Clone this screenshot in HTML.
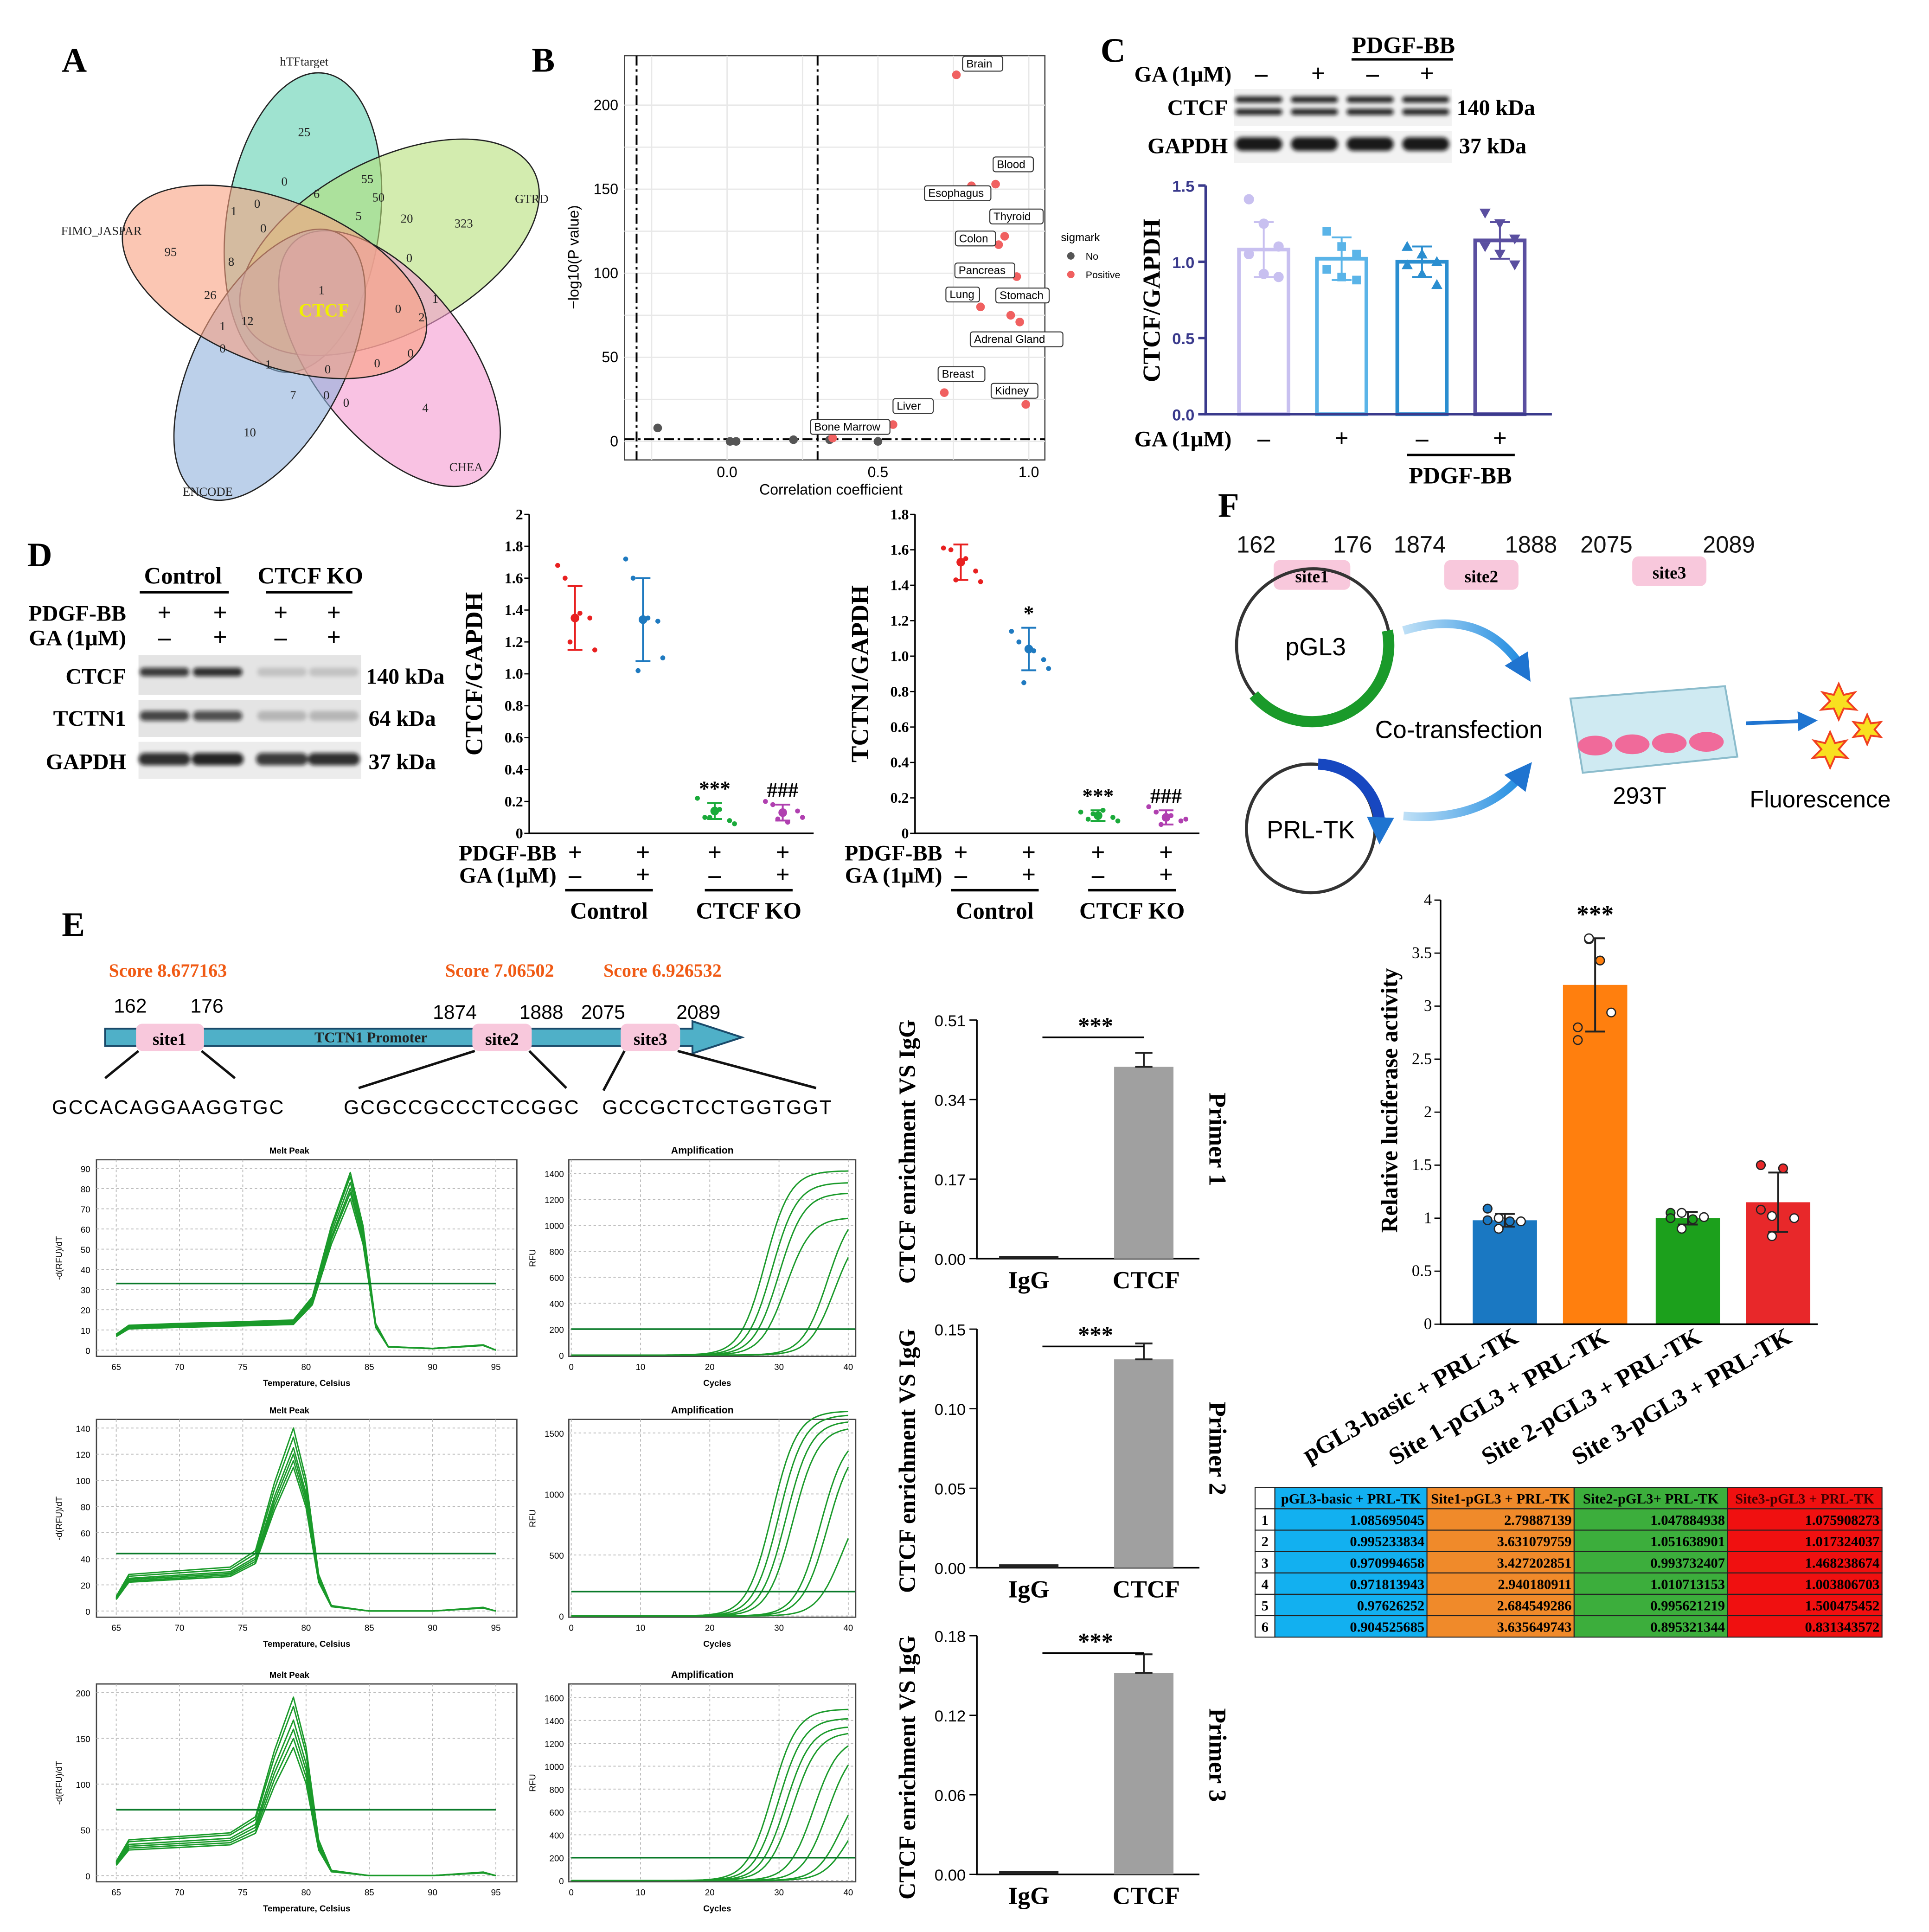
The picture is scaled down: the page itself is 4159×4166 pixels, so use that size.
<!DOCTYPE html>
<html><head><meta charset="utf-8"><style>
html,body{margin:0;padding:0;background:#fff;}
svg{display:block;}
.s{font-family:"Liberation Serif",serif;}
.a{font-family:"Liberation Sans",sans-serif;}
</style></head><body>
<svg id="fig" width="4159" height="4166" viewBox="0 0 1560 1562.6" xmlns="http://www.w3.org/2000/svg">
<rect x="0" y="0" width="1560" height="1563" fill="#fff"/>
<defs>
<filter id="blur"><feGaussianBlur stdDeviation="1.6"/></filter>
<marker id="ah" markerUnits="userSpaceOnUse" markerWidth="16" markerHeight="16" refX="8" refY="8" orient="auto"><path d="M0,0 L16,8 L0,16 z" fill="#1f74d0"/></marker>
<marker id="ah2" markerUnits="userSpaceOnUse" markerWidth="22" markerHeight="22" refX="11" refY="11" orient="auto"><path d="M0,0 L22,11 L0,22 z" fill="#1f74d0"/></marker>
<linearGradient id="arrg" x1="0" x2="1"><stop offset="0" stop-color="#bfe0f6"/><stop offset="1" stop-color="#1f8be0"/></linearGradient>
</defs>

<g class="s" font-weight="bold" font-size="28">
<text x="50" y="58">A</text><text x="430" y="58">B</text><text x="890" y="50">C</text>
<text x="22" y="458">D</text><text x="985" y="418">F</text><text x="50" y="757">E</text>
</g>

<g id="venn">
<ellipse cx="245" cy="180" rx="62" ry="122" transform="rotate(8 245 180)" fill="#5fd0b0" fill-opacity="0.6" stroke="#222"/>
<ellipse cx="315" cy="200" rx="132" ry="70" transform="rotate(-28 315 200)" fill="#b6e07a" fill-opacity="0.6" stroke="#222"/>
<ellipse cx="315" cy="290" rx="62" ry="122" transform="rotate(-38 315 290)" fill="#f59ad0" fill-opacity="0.6" stroke="#222"/>
<ellipse cx="218" cy="295" rx="60" ry="120" transform="rotate(28 218 295)" fill="#8fb0dc" fill-opacity="0.6" stroke="#222"/>
<ellipse cx="222" cy="228" rx="130" ry="66" transform="rotate(22 222 228)" fill="#f8a080" fill-opacity="0.6" stroke="#222"/>
<g class="s" font-size="10" text-anchor="middle" fill="#222">
<text x="246" y="53">hTFtarget</text><text x="430" y="164">GTRD</text><text x="82" y="190">FIMO_JASPAR</text><text x="168" y="401">ENCODE</text><text x="377" y="381">CHEA</text>
<text x="246" y="110">25</text><text x="230" y="150">0</text><text x="256" y="160">6</text><text x="297" y="148">55</text><text x="306" y="163">50</text>
<text x="375" y="184">323</text><text x="208" y="168">0</text><text x="189" y="174">1</text><text x="213" y="188">0</text><text x="290" y="178">5</text>
<text x="329" y="180">20</text><text x="331" y="212">0</text><text x="138" y="207">95</text><text x="187" y="215">8</text><text x="170" y="242">26</text>
<text x="260" y="238">1</text><text x="352" y="245">1</text><text x="322" y="253">0</text><text x="341" y="260">2</text><text x="180" y="267">1</text>
<text x="200" y="263">12</text><text x="180" y="285">0</text><text x="217" y="298">1</text><text x="332" y="289">0</text><text x="305" y="297">0</text>
<text x="265" y="302">0</text><text x="237" y="323">7</text><text x="264" y="323">0</text><text x="280" y="329">0</text><text x="344" y="333">4</text><text x="202" y="353">10</text>
</g>
<text x="262" y="256" class="s" font-size="15" font-weight="bold" fill="#f0f000" text-anchor="middle">CTCF</text>
</g>

<g id="panelB"></g>

<g class="s" font-weight="bold">
<text x="1135" y="43" font-size="19" text-anchor="middle">PDGF-BB</text>
<line x1="1093" y1="48" x2="1175" y2="48" stroke="#000" stroke-width="2"/>
<text x="996" y="66" font-size="18" text-anchor="end">GA (1μM)</text>
<text x="1020" y="66" font-size="20" text-anchor="middle">–</text><text x="1066" y="66" font-size="20" text-anchor="middle">+</text>
<text x="1110" y="66" font-size="20" text-anchor="middle">–</text><text x="1154" y="66" font-size="20" text-anchor="middle">+</text>
<text x="993" y="93" font-size="18" text-anchor="end">CTCF</text><text x="993" y="124" font-size="18" text-anchor="end">GAPDH</text>
<text x="1178" y="93" font-size="18">140 kDa</text><text x="1180" y="124" font-size="18">37 kDa</text>
<rect x="998" y="72" width="176" height="30" fill="#f2f2f2"/><rect x="998" y="106" width="176" height="26" fill="#f2f2f2"/>
</g>
<g id="blotC" filter="url(#blur)"></g>
<g id="chartC"></g>

<g class="s" font-weight="bold">
<text x="148" y="472" font-size="19" text-anchor="middle">Control</text><text x="251" y="472" font-size="19" text-anchor="middle">CTCF KO</text>
<line x1="113" y1="479" x2="185" y2="479" stroke="#000" stroke-width="2"/><line x1="215" y1="479" x2="285" y2="479" stroke="#000" stroke-width="2"/>
<text x="102" y="502" font-size="18" text-anchor="end">PDGF-BB</text><text x="102" y="522" font-size="18" text-anchor="end">GA (1μM)</text>
<text x="133" y="502" font-size="20" text-anchor="middle">+</text><text x="178" y="502" font-size="20" text-anchor="middle">+</text><text x="227" y="502" font-size="20" text-anchor="middle">+</text><text x="270" y="502" font-size="20" text-anchor="middle">+</text>
<text x="133" y="522" font-size="20" text-anchor="middle">–</text><text x="178" y="522" font-size="20" text-anchor="middle">+</text><text x="227" y="522" font-size="20" text-anchor="middle">–</text><text x="270" y="522" font-size="20" text-anchor="middle">+</text>
<text x="102" y="553" font-size="18" text-anchor="end">CTCF</text><text x="102" y="587" font-size="18" text-anchor="end">TCTN1</text><text x="102" y="622" font-size="18" text-anchor="end">GAPDH</text>
<text x="296" y="553" font-size="18">140 kDa</text><text x="298" y="587" font-size="18">64 kDa</text><text x="298" y="622" font-size="18">37 kDa</text>
<rect x="112" y="530" width="180" height="32" fill="#e4e4e4"/><rect x="112" y="566" width="180" height="30" fill="#e4e4e4"/><rect x="112" y="600" width="180" height="30" fill="#ececec"/>
</g>
<g id="blotD" filter="url(#blur)"></g>
<g id="chartD1"></g>
<g id="chartD2"></g>

<g>
<g class="a" font-size="19" fill="#111">
<text x="1000" y="447">162</text><text x="1078" y="447">176</text><text x="1127" y="447">1874</text><text x="1217" y="447">1888</text><text x="1278" y="447">2075</text><text x="1377" y="447">2089</text>
</g>
<rect x="1030" y="453" width="62" height="24" rx="5" fill="#f8c8dc"/><text x="1061" y="471" class="s" font-weight="bold" font-size="14" text-anchor="middle">site1</text>
<rect x="1168" y="453" width="60" height="24" rx="5" fill="#f8c8dc"/><text x="1198" y="471" class="s" font-weight="bold" font-size="14" text-anchor="middle">site2</text>
<rect x="1320" y="450" width="60" height="24" rx="5" fill="#f8c8dc"/><text x="1350" y="468" class="s" font-weight="bold" font-size="14" text-anchor="middle">site3</text>
<circle cx="1062" cy="522" r="62" fill="none" stroke="#333" stroke-width="2.5"/>
<path d="M1122,510 A62,62 0 0 1 1014,562" fill="none" stroke="#1a9a2a" stroke-width="9"/>
<text x="1064" y="530" class="a" font-size="20" text-anchor="middle">pGL3</text>
<circle cx="1060" cy="670" r="52" fill="none" stroke="#333" stroke-width="2.5"/>
<path d="M1066,618 A52,52 0 0 1 1116,672" fill="none" stroke="#1747c0" stroke-width="9" marker-end="url(#ah2)"/>
<text x="1060" y="678" class="a" font-size="20" text-anchor="middle">PRL-TK</text>
<path d="M1135,510 Q1200,490 1232,542" fill="none" stroke="url(#arrg)" stroke-width="7" marker-end="url(#ah2)"/>
<path d="M1135,660 Q1200,665 1232,625" fill="none" stroke="url(#arrg)" stroke-width="7" marker-end="url(#ah2)"/>
<text x="1112" y="597" class="a" font-size="20">Co-transfection</text>
<path d="M1270,565 L1395,555 L1405,612 L1280,625 z" fill="#cfeaf2" stroke="#8bbccc" stroke-width="1.5"/>
<g fill="#f06a9a"><ellipse cx="1290" cy="603" rx="14" ry="8"/><ellipse cx="1320" cy="602" rx="14" ry="8"/><ellipse cx="1350" cy="601" rx="14" ry="8"/><ellipse cx="1380" cy="600" rx="14" ry="8"/></g>
<text x="1326" y="650" class="a" font-size="19" text-anchor="middle">293T</text>
<line x1="1412" y1="585" x2="1462" y2="583" stroke="#1f74d0" stroke-width="3" marker-end="url(#ah)"/>
<g fill="#f8e020" stroke="#f04020" stroke-width="1.5">
<polygon points="1487,553 1491,562 1500,560 1494,567 1501,574 1491,573 1487,582 1483,573 1473,574 1480,567 1474,560 1483,562"/>
<polygon points="1510,578 1513,585 1521,584 1516,590 1521,596 1513,595 1510,602 1507,595 1499,596 1504,590 1499,584 1507,585"/>
<polygon points="1480,592 1484,601 1493,599 1487,606 1494,613 1484,612 1480,621 1476,612 1466,613 1473,606 1467,599 1476,601"/>
</g>
<text x="1472" y="653" class="a" font-size="19" text-anchor="middle">Fluorescence</text>
</g>
<g id="chartF"></g>
<g id="tableF"></g>

<g>
<g class="s" font-weight="bold" font-size="15" fill="#f05a14"><text x="88" y="790">Score 8.677163</text><text x="360" y="790">Score 7.06502</text><text x="488" y="790">Score 6.926532</text></g>
<g class="a" font-size="16"><text x="92" y="819">162</text><text x="154" y="819">176</text><text x="350" y="824">1874</text><text x="420" y="824">1888</text><text x="470" y="824">2075</text><text x="547" y="824">2089</text></g>
<path d="M85,832 L560,832 L560,826 L600,839 L560,852 L560,846 L85,846 z" fill="#4fb0c8" stroke="#1a4a6a" stroke-width="1.5"/>
<text x="300" y="843" class="s" font-weight="bold" font-size="12" text-anchor="middle" fill="#222">TCTN1 Promoter</text>
<rect x="110" y="828" width="55" height="22" rx="5" fill="#f8c8dc"/><text x="137" y="845" class="s" font-weight="bold" font-size="14" text-anchor="middle">site1</text>
<rect x="382" y="828" width="48" height="22" rx="5" fill="#f8c8dc"/><text x="406" y="845" class="s" font-weight="bold" font-size="14" text-anchor="middle">site2</text>
<rect x="502" y="828" width="48" height="22" rx="5" fill="#f8c8dc"/><text x="526" y="845" class="s" font-weight="bold" font-size="14" text-anchor="middle">site3</text>
<g stroke="#111" stroke-width="2"><line x1="112" y1="850" x2="85" y2="872"/><line x1="163" y1="850" x2="190" y2="872"/><line x1="384" y1="850" x2="290" y2="880"/><line x1="428" y1="850" x2="458" y2="880"/><line x1="505" y1="850" x2="488" y2="882"/><line x1="548" y1="850" x2="660" y2="880"/></g>
<g class="a" font-size="16" letter-spacing="1"><text x="42" y="901">GCCACAGGAAGGTGC</text><text x="278" y="901">GCGCCGCCCTCCGGC</text><text x="487" y="901">GCCGCTCCTGGTGGT</text></g>
</g>
<g id="qpcr"></g>
<g id="chip"></g>
</svg>

<script>
const tissueNames = ["Brain","Blood","Esophagus","Thyroid","Colon","Pancreas","Lung","Stomach","Adrenal Gland","Breast","Liver","Bone Marrow","Kidney"];
const tissueR = [0.76,0.89,0.81,0.92,0.90,0.96,0.84,0.94,0.97,0.72,0.55,0.35,0.99];
const tissueP = [218,153,152,122,117,98,80,75,71,29,10,2,22];
const grayR = [-0.23,0.01,0.03,0.22,0.34,0.50];
const grayP = [8,0,0,1,1,0];
const cMeans = [1.08,1.02,1.00,1.14];
const cSD = [0.18,0.14,0.10,0.12];
const cPts = [[1.41,1.25,1.10,1.05,0.92,0.90],[1.20,1.10,1.05,0.95,0.90,0.88],[1.10,1.05,1.00,0.98,0.92,0.85],[1.32,1.25,1.15,1.10,1.05,0.98]];
const d1Pts = [[1.68,1.60,1.38,1.35,1.15,1.20],[1.72,1.60,1.35,1.33,1.10,1.02],[0.22,0.10,0.15,0.08,0.06,0.10],[0.20,0.18,0.07,0.14,0.10,0.09]];
const d1Mean = [1.35,1.34,0.14,0.13];
const d1SD = [0.20,0.26,0.05,0.05];
const d2Pts = [[1.61,1.60,1.55,1.48,1.42,1.43],[1.14,1.08,1.03,0.98,0.93,0.85],[0.12,0.08,0.13,0.09,0.07,0.11],[0.15,0.12,0.10,0.07,0.08,0.05]];
const d2Mean = [1.53,1.04,0.10,0.09];
const d2SD = [0.10,0.12,0.03,0.04];
const fMeans = [0.98,3.20,1.00,1.15];
const fSD = [0.06,0.44,0.06,0.28];
const fPts = [[1.09,1.00,0.97,0.97,0.98,0.90],[2.80,3.63,3.43,2.94,2.68,3.64],[1.05,1.05,0.99,1.01,1.00,0.90],[1.08,1.02,1.47,1.00,1.50,0.83]];
const fLabels = ["pGL3-basic + PRL-TK","Site 1-pGL3 + PRL-TK","Site 2-pGL3 + PRL-TK","Site 3-pGL3 + PRL-TK"];
const tableHead = ["pGL3-basic + PRL-TK","Site1-pGL3 + PRL-TK","Site2-pGL3+ PRL-TK","Site3-pGL3 + PRL-TK"];
const tableRows = [["1.085695045","2.79887139","1.047884938","1.075908273"],["0.995233834","3.631079759","1.051638901","1.017324037"],["0.970994658","3.427202851","0.993732407","1.468238674"],["0.971813943","2.940180911","1.010713153","1.003806703"],["0.97626252","2.684549286","0.995621219","1.500475452"],["0.904525685","3.635649743","0.895321344","0.831343572"]];
const chipIgG = [0.002,0.001,0.001];
const chipCTCF = [0.41,0.131,0.152];
const chipErr = [0.03,0.010,0.014];
const chipTicks = [["0.00","0.17","0.34","0.51"],["0.00","0.05","0.10","0.15"],["0.00","0.06","0.12","0.18"]];
const meltShapeA = [[65,.09],[66,.14],[70,.15],[75,.16],[79,.17],[80.5,.3],[82,.7],[83.5,1],[84.5,.7],[85.5,.15],[86.5,.02],[90,.01],[94,.03],[95,0]];
const meltShapeB = [[65,.08],[66,.2],[70,.22],[74,.24],[76,.33],[77.5,.7],[79,1],[80,.72],[81,.2],[82,.03],[85,0],[90,0],[94,.02],[95,0]];
const meltPeaks = [[88,86,83,80,78,75],[140,133,125,120,115,110],[195,185,170,160,150,140]];
const meltThr = [33,44,72];
const ampCt = [[26,27,28,29,35,36],[27,28,29,30,34,35,37],[27,28,29,30,33,35,37,38]];
const ampPlat = [[1420,1330,1250,1060,1150,1000],[1680,1650,1600,1550,1500,1450,1000],[1500,1420,1350,1300,1250,1200,900,700]];
const ampThr = [200,200,200];

const NS="http://www.w3.org/2000/svg";
function mk(tag, attrs, parent){const e=document.createElementNS(NS,tag);for(const k in attrs)e.setAttribute(k,attrs[k]);parent.appendChild(e);return e;}
function txt(s, attrs, parent){const e=mk('text',attrs,parent);e.textContent=s;return e;}
const SERIF='"Liberation Serif",serif', SANS='"Liberation Sans",sans-serif';

(function(){
const g=document.getElementById('panelB');
const xs=v=>588+v*244, ys=v=>357-v*1.36;
mk('rect',{x:505,y:45,width:340,height:327,fill:'#fff',stroke:'#444'},g);
[-0.25,0,0.25,0.5,0.75,1].forEach(v=>{const l=mk('line',{x1:xs(v),x2:xs(v),y1:45,y2:372,stroke:'#e8e8e8'},g);

});
[0,25,50,75,100,125,150,175,200].forEach(v=>{const l=mk('line',{x1:505,x2:845,y1:ys(v),y2:ys(v),stroke:'#e8e8e8'},g);

});
[[-0.3],[0.3]].forEach(v=>{const l=mk('line',{x1:xs(v[0]),x2:xs(v[0]),y1:45,y2:372,stroke:'#000','stroke-dasharray':'8,3,2,3','stroke-width':1.5},g);

});
const hl=mk('line',{x1:505,x2:845,y1:ys(1.3),y2:ys(1.3),stroke:'#000','stroke-dasharray':'8,3,2,3','stroke-width':1.5},g);


[0,50,100,150,200].forEach(v=>{const t=txt(v,{x:500,y:ys(v)+4,'font-size':12,'text-anchor':'end','font-family':SANS},g);

});
[0,0.5,1].forEach(v=>{const t=txt(v.toFixed(1),{x:xs(v),y:386,'font-size':12,'text-anchor':'middle','font-family':SANS},g);

});
const xt=txt('Correlation coefficient',{x:672,y:400,'font-size':12,'text-anchor':'middle','font-family':SANS},g);


const yt=txt('−log10(P value)',{x:468,y:208,'font-size':12,'text-anchor':'middle','font-family':SANS,transform:'rotate(-90 468 208)'},g);


grayR.forEach((r,i)=>{const c=mk('circle',{cx:xs(r),cy:ys(grayP[i]),r:3.5,fill:'#555'},g);

});
const off={Brain:[5,-6],Blood:[-2,-13],Esophagus:[-38,9],Thyroid:[-12,-13],Colon:[-35,-2],Pancreas:[-50,-2],Lung:[-28,-7],Stomach:[-12,-13],"Adrenal Gland":[-40,17],Breast:[-5,-12],Liver:[0,-12],"Bone Marrow":[-18,-6],Kidney:[-28,-8]};
tissueR.forEach((r,i)=>{const x=xs(r),y=ys(tissueP[i]);const c=mk('circle',{cx:x,cy:y,r:3.5,fill:'#f06060'},g);


const o=off[tissueNames[i]];const w=tissueNames[i].length*5.3+6;
const bx=x+o[0],by=y+o[1];
const b=mk('rect',{x:bx,y:by-9,width:w,height:12,fill:'#fff',stroke:'#333','stroke-width':0.8,rx:2},g);


const t=txt(tissueNames[i],{x:bx+3,y:by,'font-size':9,'font-family':SANS},g);

});
const lg=txt('sigmark',{x:858,y:195,'font-size':9,'font-family':SANS},g);


[['No','#555',210],['Positive','#f06060',225]].forEach(a=>{const c=mk('circle',{cx:866,cy:a[2]-3,r:3,fill:a[1]},g);


const t=txt(a[0],{x:878,y:a[2],'font-size':8,'font-family':SANS},g);

});
})();

function band(g,x,y,w,h,op){const r=mk('rect',{x:x,y:y,width:w,height:h,rx:h/2,fill:'#111','fill-opacity':op},g);

}
(function(){const g=document.getElementById('blotC');
[1018,1063,1108,1153].forEach((x,i)=>{band(g,x-19,78,38,5,.9);band(g,x-19,88,38,5,.9);band(g,x-19,111,38,11,.95);});
const d=document.getElementById('blotD');
[[133,.8,.75,.85],[176,.85,.7,.9],[228,.15,.2,.8],[270,.15,.2,.85]].forEach(a=>{band(d,a[0]-20,540,40,7,a[1]);band(d,a[0]-20,575,40,8,a[2]);band(d,a[0]-21,609,42,10,a[3]);});})();

function marker(g,shape,x,y,col,fill){let e;
if(shape==='c')e=mk('circle',{cx:x,cy:y,r:3.5,fill:fill?col:'#fff',stroke:col,'stroke-width':1.3},g);
else if(shape==='s')e=mk('rect',{x:x-3.5,y:y-3.5,width:7,height:7,fill:col},g);
else if(shape==='t')e=mk('polygon',{points:`${x},${y-4.5} ${x+4.5},${y+3.5} ${x-4.5},${y+3.5}`,fill:col},g);
else e=mk('polygon',{points:`${x},${y+4.5} ${x+4.5},${y-3.5} ${x-4.5},${y-3.5}`,fill:col},g);

}
function errbar(g,x,y1,y2,col,w){const l=mk('path',{d:`M${x},${y1}V${y2}M${x-w},${y1}h${2*w}M${x-w},${y2}h${2*w}`,stroke:col,'stroke-width':1.5,fill:'none'},g);

}

(function(){const g=document.getElementById('chartC');const ys=v=>335-v*123.3;const axc='#3a3a8c';
const xc=[1022,1085,1150,1213],cols=['#c8c0f0','#5ab4e8','#2a8ed0','#5a4fa0'],sh=['c','s','t','v'];
cMeans.forEach((m,i)=>{const b=mk('rect',{x:xc[i]-20,y:ys(m),width:40,height:ys(0)-ys(m),fill:'#fff',stroke:cols[i],'stroke-width':3},g);


errbar(g,xc[i],ys(m-cSD[i]),ys(m+cSD[i]),cols[i],8);
cPts[i].forEach((v,j)=>marker(g,sh[i],xc[i]-12+(j%3)*12,ys(v),cols[i],true));});
const ax=mk('path',{d:'M975,150V335H1255',stroke:axc,'stroke-width':2,fill:'none'},g);


[0,0.5,1,1.5].forEach(v=>{mk('line',{x1:969,x2:975,y1:ys(v),y2:ys(v),stroke:axc,'stroke-width':2},g);
const t=txt(v.toFixed(1),{x:966,y:ys(v)+5,'font-size':13,'text-anchor':'end','font-family':SANS,'font-weight':'bold',fill:axc},g);

});
const yt=txt('CTCF/GAPDH',{x:938,y:243,'font-size':20,'font-weight':'bold','font-family':SERIF,'text-anchor':'middle',transform:'rotate(-90 938 243)'},g);


const gl=txt('GA (1μM)',{x:996,y:361,'font-size':18,'font-weight':'bold','font-family':SERIF,'text-anchor':'end'},g);


['–','+','–','+'].forEach((s,i)=>{const t=txt(s,{x:xc[i],y:361,'font-size':20,'font-weight':'bold','font-family':SERIF,'text-anchor':'middle'},g);

});
mk('line',{x1:1138,x2:1225,y1:368,y2:368,stroke:'#000','stroke-width':2},g);
const p=txt('PDGF-BB',{x:1181,y:391,'font-size':19,'font-weight':'bold','font-family':SERIF,'text-anchor':'middle'},g);

})();

function dChart(id,pts,means,sds,axX,xc,maxV,step,dec,title,sigs){const g=document.getElementById(id);
const y0=674,ytop=416;const ys=v=>y0-v*(y0-ytop)/maxV;const cols=['#e82020','#1f7ac0','#1aaa3a','#b040b0'];
const ax=mk('path',{d:`M${axX},${ytop}V${y0}H${axX+230}`,stroke:'#000','stroke-width':1.3,fill:'none'},g);


for(let v=0;v<=maxV+1e-9;v+=step){mk('line',{x1:axX-4,x2:axX,y1:ys(v),y2:ys(v),stroke:'#000'},g);
const t=txt(v===0?'0':(v>=1.999&&maxV===2?'2':v.toFixed(dec)),{x:axX-5,y:ys(v)+4,'font-size':12,'text-anchor':'end','font-family':SERIF,'font-weight':'bold'},g);

}
pts.forEach((arr,i)=>{arr.forEach((v,j)=>{const dx=[-14,-8,4,12,16,-4][j];const c=mk('circle',{cx:xc[i]+dx,cy:ys(v),r:2,fill:cols[i]},g);

});
errbar(g,xc[i],ys(means[i]-sds[i]),ys(means[i]+sds[i]),cols[i],6);
const m=mk('circle',{cx:xc[i],cy:ys(means[i]),r:3.5,fill:cols[i]},g);


if(sigs[i]){const s=txt(sigs[i],{x:xc[i],y:ys(means[i]+sds[i])-6,'font-size':17,'font-family':SERIF,'font-weight':'bold','text-anchor':'middle'},g);

}});
const yt=txt(title,{x:axX-38,y:545,'font-size':20,'font-weight':'bold','font-family':SERIF,'text-anchor':'middle',transform:`rotate(-90 ${axX-38} 545)`},g);


[['PDGF-BB',696],['GA (1μM)',714]].forEach(a=>{const t=txt(a[0],{x:axX+22,y:a[1],'font-size':18,'font-weight':'bold','font-family':SERIF,'text-anchor':'end'},g);

});
xc.forEach((x,i)=>{txt('+',{x:x,y:696,'font-size':20,'font-weight':'bold','font-family':SERIF,'text-anchor':'middle'},g);
const t=txt(i%2?'+':'–',{x:x,y:714,'font-size':20,'font-weight':'bold','font-family':SERIF,'text-anchor':'middle'},g);

});
mk('line',{x1:xc[0]-8,x2:xc[1]+8,y1:720,y2:720,stroke:'#000','stroke-width':2},g);
mk('line',{x1:xc[2]-8,x2:xc[3]+8,y1:720,y2:720,stroke:'#000','stroke-width':2},g);
txt('Control',{x:(xc[0]+xc[1])/2,y:743,'font-size':19,'font-weight':'bold','font-family':SERIF,'text-anchor':'middle'},g);
txt('CTCF KO',{x:(xc[2]+xc[3])/2,y:743,'font-size':19,'font-weight':'bold','font-family':SERIF,'text-anchor':'middle'},g);}
dChart('chartD1',d1Pts,d1Mean,d1SD,428,[465,520,578,633],2,0.2,1,'CTCF/GAPDH',[null,null,'***','###']);
dChart('chartD2',d2Pts,d2Mean,d2SD,740,[777,832,888,943],1.8,0.2,1,'TCTN1/GAPDH',[null,'*','***','###']);

(function(){const g=document.getElementById('chartF');const ys=v=>1071-v*85.75;
const xc=[1217,1290,1365,1438],cols=['#1a78c2','#ff7f0e','#1ca01c','#e8282a'];
fMeans.forEach((m,i)=>{const b=mk('rect',{x:xc[i]-26,y:ys(m),width:52,height:ys(0)-ys(m),fill:cols[i]},g);


errbar(g,xc[i],ys(m-fSD[i]),ys(m+fSD[i]),'#222',8);
fPts[i].forEach((v,j)=>{const c=mk('circle',{cx:xc[i]-14+(j%4)*9,cy:ys(v),r:3.5,fill:j%2?'#fff':cols[i],stroke:'#222','stroke-width':1},g);

});
const t=txt(fLabels[i],{x:xc[i]+12,y:1085,'font-size':20,'font-weight':'bold','font-family':SERIF,'text-anchor':'end',transform:`rotate(-30 ${xc[i]+12} 1085)`},g);

});
const s=txt('***',{x:1290,y:746,'font-size':20,'font-weight':'bold','font-family':SERIF,'text-anchor':'middle'},g);


const ax=mk('path',{d:'M1165,728V1071H1470',stroke:'#000','stroke-width':1.3,fill:'none'},g);


[0,0.5,1,1.5,2,2.5,3,3.5,4].forEach(v=>{mk('line',{x1:1160,x2:1165,y1:ys(v),y2:ys(v),stroke:'#000'},g);
const t=txt(String(v),{x:1158,y:ys(v)+4,'font-size':13,'text-anchor':'end','font-family':SERIF},g);

});
const yt=txt('Relative luciferase activity',{x:1130,y:890,'font-size':19,'font-weight':'bold','font-family':SERIF,'text-anchor':'middle',transform:'rotate(-90 1130 890)'},g);

})();

(function(){const g=document.getElementById('tableF');const cx=[1015,1031,1154,1273,1397,1522];const cols=['#12b0f0','#f08a2a','#3cae3c','#f01010'];
const y0=1203,rh=17.3;
for(let r=0;r<7;r++){for(let c=0;c<5;c++){const x=cx[c],w=cx[c+1]-cx[c];
const cell=mk('rect',{x:x,y:y0+r*rh,width:w,height:rh,fill:c===0?'#fff':cols[c-1],stroke:'#222','stroke-width':0.8},g);


let s,anchor,tx;
if(r===0){s=c===0?'':tableHead[c-1];anchor='middle';tx=x+w/2;}
else if(c===0){s=String(r);anchor='middle';tx=x+w/2;}
else{s=tableRows[r-1][c-1];anchor='end';tx=x+w-2;}
const t=txt(s,{x:tx,y:y0+r*rh+13,'font-size':11.5,'font-weight':'bold','font-family':SERIF,'text-anchor':anchor,fill:(r===0&&c===4)?'#400':'#000'},g);

}}})();

(function(){const g=document.getElementById('chip');const base=[1018,1268,1516],top=[825,1075,1323];
const maxes=[0.51,0.15,0.18];
[0,1,2].forEach(k=>{const ys=v=>base[k]-v*(base[k]-top[k])/maxes[k];
const ax=mk('path',{d:`M790,${top[k]}V${base[k]}H970`,stroke:'#000','stroke-width':1.3,fill:'none'},g);


chipTicks[k].forEach((s,i)=>{const v=parseFloat(s);mk('line',{x1:784,x2:790,y1:ys(v),y2:ys(v),stroke:'#000'},g);
const t=txt(s,{x:781,y:ys(v)+5,'font-size':13,'text-anchor':'end','font-family':SANS},g);

});
const b1=mk('rect',{x:808,y:ys(chipIgG[k])-1.5,width:48,height:Math.max(1.5,ys(0)-ys(chipIgG[k])+1.5),fill:'#222'},g);


const b2=mk('rect',{x:901,y:ys(chipCTCF[k]),width:48,height:ys(0)-ys(chipCTCF[k]),fill:'#a0a0a0'},g);


errbar(g,925,ys(chipCTCF[k]),ys(chipCTCF[k]+chipErr[k]),'#222',7);
mk('line',{x1:843,x2:925,y1:top[k]+14,y2:top[k]+14,stroke:'#000','stroke-width':1.3},g);
txt('***',{x:886,y:top[k]+11,'font-size':19,'font-family':SERIF,'font-weight':'bold','text-anchor':'middle'},g);
txt('IgG',{x:832,y:base[k]+24,'font-size':20,'font-family':SERIF,'font-weight':'bold','text-anchor':'middle'},g);
txt('CTCF',{x:927,y:base[k]+24,'font-size':20,'font-family':SERIF,'font-weight':'bold','text-anchor':'middle'},g);
const yc=(top[k]+base[k])/2+10;
const yt=txt('CTCF enrichment VS IgG',{x:740,y:yc,'font-size':19,'font-weight':'bold','font-family':SERIF,'text-anchor':'middle',transform:`rotate(-90 740 ${yc})`},g);


const pl=txt('Primer '+(k+1),{x:978,y:yc-10,'font-size':20,'font-weight':'bold','font-family':SERIF,'text-anchor':'middle',transform:`rotate(90 978 ${yc-10})`},g);

});})();

(function(){const g=document.getElementById('qpcr');
const frames=[[938,1097],[1148,1308],[1362,1522]];
const meltMax=[90,140,200],meltStep=[10,20,50],ampMax=[1400,1500,1600],ampStep=[200,500,200];
frames.forEach((f,k)=>{
const mx=v=>94+(v-65)*307/30,my=v=>f[1]-5-v*(f[1]-f[0]-12)/meltMax[k];
const fr=mk('rect',{x:78,y:f[0],width:340,height:f[1]-f[0],fill:'#fff',stroke:'#444'},g);


for(let v=65;v<=95;v+=5){mk('line',{x1:mx(v),x2:mx(v),y1:f[0],y2:f[1],stroke:'#bbb','stroke-dasharray':'2,2','stroke-width':0.7},g);
txt(v,{x:mx(v),y:f[1]+11,'font-size':7,'text-anchor':'middle','font-family':SANS},g);}
for(let v=0;v<=meltMax[k];v+=meltStep[k]){mk('line',{x1:78,x2:418,y1:my(v),y2:my(v),stroke:'#bbb','stroke-dasharray':'2,2','stroke-width':0.7},g);
txt(v,{x:73,y:my(v)+3,'font-size':7,'text-anchor':'end','font-family':SANS},g);}
txt('Melt Peak',{x:234,y:f[0]-5,'font-size':7,'font-weight':'bold','text-anchor':'middle','font-family':SANS},g);
txt('Temperature, Celsius',{x:248,y:f[1]+24,'font-size':7,'font-weight':'bold','text-anchor':'middle','font-family':SANS},g);
txt('-d(RFU)/dT',{x:50,y:(f[0]+f[1])/2,'font-size':7,'text-anchor':'middle','font-family':SANS,transform:`rotate(-90 50 ${(f[0]+f[1])/2})`},g);
const shape=k===0?meltShapeA:meltShapeB;
meltPeaks[k].forEach(pk=>{const d=shape.map((p,i)=>(i?'L':'M')+mx(p[0]).toFixed(1)+','+my(p[1]*pk).toFixed(1)).join('');
const c=mk('path',{d:d,fill:'none',stroke:'#1a9a2a','stroke-width':1.1,'stroke-linejoin':'round'},g);

});
mk('line',{x1:94,x2:401,y1:my(meltThr[k]),y2:my(meltThr[k]),stroke:'#0a7a2a','stroke-width':1.3},g);
const ax=v=>462+v*5.6,ay=v=>f[1]-1-v*(f[1]-f[0]-12)/ampMax[k];
const fa=mk('rect',{x:460,y:f[0],width:232,height:f[1]-f[0],fill:'#fff',stroke:'#444'},g);


for(let v=0;v<=40;v+=10){mk('line',{x1:ax(v),x2:ax(v),y1:f[0],y2:f[1],stroke:'#bbb','stroke-dasharray':'2,2','stroke-width':0.7},g);
txt(v,{x:ax(v),y:f[1]+11,'font-size':7,'text-anchor':'middle','font-family':SANS},g);}
for(let v=0;v<=ampMax[k];v+=ampStep[k]){mk('line',{x1:460,x2:692,y1:ay(v),y2:ay(v),stroke:'#bbb','stroke-dasharray':'2,2','stroke-width':0.7},g);
txt(v,{x:456,y:ay(v)+3,'font-size':7,'text-anchor':'end','font-family':SANS},g);}
txt('Amplification',{x:568,y:f[0]-5,'font-size':8,'font-weight':'bold','text-anchor':'middle','font-family':SANS},g);
txt('Cycles',{x:580,y:f[1]+24,'font-size':7,'font-weight':'bold','text-anchor':'middle','font-family':SANS},g);
txt('RFU',{x:433,y:(f[0]+f[1])/2,'font-size':7,'text-anchor':'middle','font-family':SANS,transform:`rotate(-90 433 ${(f[0]+f[1])/2})`},g);
ampCt[k].forEach((ct,i)=>{let d='';for(let c=0;c<=40;c+=0.5){const v=ampPlat[k][i]/(1+Math.exp(-(c-ct-2)/1.8));d+=(c?'L':'M')+ax(c).toFixed(1)+','+ay(v).toFixed(1);}
const c=mk('path',{d:d,fill:'none',stroke:'#1a9a2a','stroke-width':1.1},g);

});
mk('line',{x1:ax(0),x2:ax(41),y1:ay(ampThr[k]),y2:ay(ampThr[k]),stroke:'#0a7a2a','stroke-width':1.3},g);
});})();
</script>
</body></html>
